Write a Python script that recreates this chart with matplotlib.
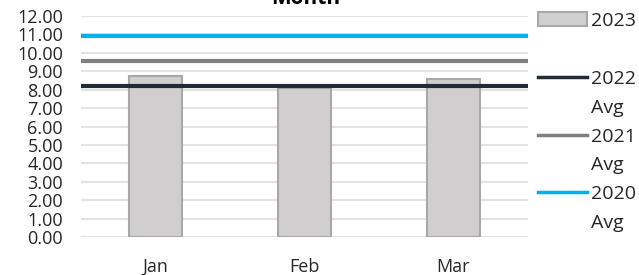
import matplotlib
matplotlib.use("Agg")
import matplotlib.pyplot as plt
from matplotlib.lines import Line2D
from matplotlib.patches import Patch

# ---- data ----
months = ["Jan", "Feb", "Mar"]
values_2023 = [8.75, 8.10, 8.57]
avg_2022 = 8.22
avg_2021 = 9.58
avg_2020 = 10.90
y_ticks = [0, 1, 2, 3, 4, 5, 6, 7, 8, 9, 10, 11, 12]

plt.rcParams['font.family'] = ['Open Sans', 'DejaVu Sans']

W, H = 639, 275
fig = plt.figure(figsize=(W / 100, H / 100), dpi=100)
ax = fig.add_axes([81 / W, 1 - 237 / H, (528 - 81) / W, (237 - 16) / H])

x = list(range(len(months)))
ax.bar(x, values_2023, width=0.355, color="#D0CECE", edgecolor="#A8A8A8",
       linewidth=1.5, zorder=2)
c22, c21, c20 = "#222A35", "#7F7F7F", "#00B0F0"
ax.axhline(avg_2022, color=c22, lw=3, zorder=3)
ax.axhline(avg_2021, color=c21, lw=3, zorder=3)
ax.axhline(avg_2020, color=c20, lw=3, zorder=3)

ax.set_xlim(-0.5, 2.5)
ax.set_ylim(0, 12)
ax.set_yticks(y_ticks)
ax.set_yticklabels([f"{v:.2f}" for v in y_ticks])
ax.set_xticks(x)
ax.set_xticklabels(months)
ax.tick_params(axis="y", length=0, pad=13, labelsize=13, labelcolor="#262626")
ax.tick_params(axis="x", length=0, pad=15, labelsize=13, labelcolor="#262626")
ax.yaxis.grid(True, color="#E3E3E3", lw=1.5, zorder=0)
ax.set_axisbelow(True)
for s in ax.spines.values():
    s.set_visible(False)

fig.text(306 / W, 1 - 4 / H, "Month", ha="center", va="baseline",
         fontsize=15, fontweight="bold", color="#000000")

blank = Line2D([], [], color="none")
handles = [Patch(facecolor="#D0CECE", edgecolor="#A8A8A8", lw=1.5), blank,
           Line2D([], [], color=c22, lw=2.5), blank,
           Line2D([], [], color=c21, lw=2.5), blank,
           Line2D([], [], color=c20, lw=2.5), blank]
labels = ["2023", " ", "2022", "Avg", "2021", "Avg", "2020", "Avg"]
fig.legend(handles, labels, loc="upper left", bbox_to_anchor=(538 / W, 1 - 12 / H),
           frameon=False, fontsize=14, borderpad=0, borderaxespad=0,
           handlelength=2.5, handleheight=0.72, handletextpad=0.25,
           labelspacing=0.56, labelcolor="#262626")

fig.savefig("out.png", dpi=100)
